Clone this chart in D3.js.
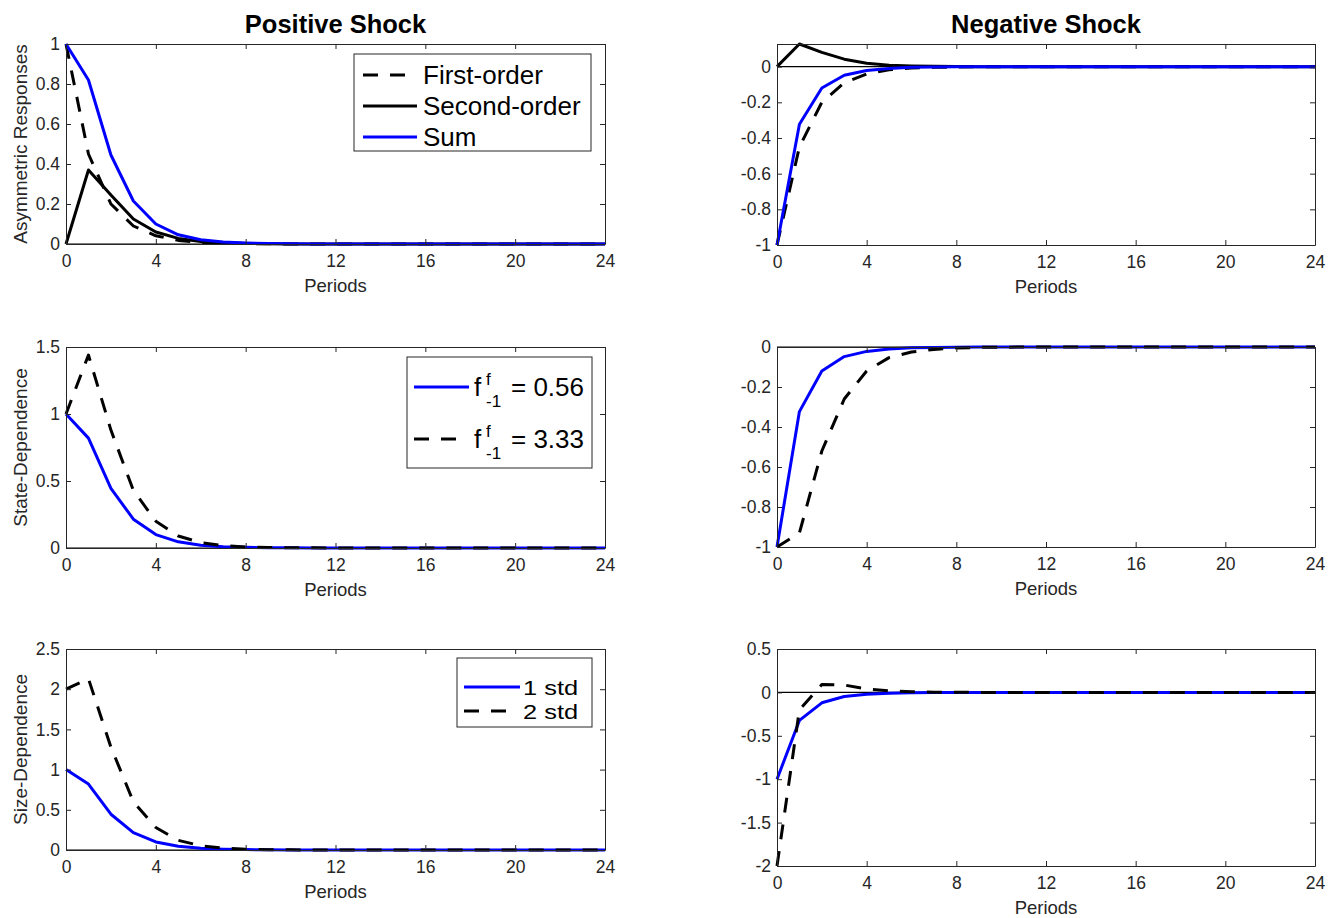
<!DOCTYPE html>
<html>
<head>
<meta charset="utf-8">
<script src="https://cdn.jsdelivr.net/npm/d3@7"></script>
<style>
  html, body { margin: 0; padding: 0; background: #fff; }
  svg { display: block; }
  text { font-family: "Liberation Sans", Arial, Helvetica, sans-serif; }
</style>
</head>
<body>
<div id="chart"></div>
<script>
// ---------------- data ----------------
const periods = [0,1,2,3,4,5,6,7,8,9,10,11,12,13,14,15,16,17,18,19,20,21,22,23,24];
const xTicks = [0,4,8,12,16,20,24];

const columnTitles = ["Positive Shock", "Negative Shock"];
const rowLabels = ["Asymmetric Responses", "State-Dependence", "Size-Dependence"];
const xLabel = "Periods";

// Row 1: asymmetric responses
const posFirstOrder  = [1, 0.45, 0.2, 0.09, 0.041, 0.018, 0.008, 0.004, 0.002, 0.001, 0, 0, 0, 0, 0, 0, 0, 0, 0, 0, 0, 0, 0, 0, 0];
const posSecondOrder = [0, 0.37, 0.245, 0.125, 0.06, 0.028, 0.013, 0.006, 0.003, 0.001, 0, 0, 0, 0, 0, 0, 0, 0, 0, 0, 0, 0, 0, 0, 0];
const posSum         = [1, 0.82, 0.445, 0.215, 0.10, 0.046, 0.021, 0.01, 0.005, 0.002, 0.001, 0, 0, 0, 0, 0, 0, 0, 0, 0, 0, 0, 0, 0, 0];
const negFirstOrder  = [-1, -0.45, -0.2, -0.09, -0.041, -0.018, -0.008, -0.004, -0.002, -0.001, 0, 0, 0, 0, 0, 0, 0, 0, 0, 0, 0, 0, 0, 0, 0];
const negSecondOrder = [0, 0.127, 0.08, 0.042, 0.019, 0.008, 0.004, 0.002, 0.001, 0, 0, 0, 0, 0, 0, 0, 0, 0, 0, 0, 0, 0, 0, 0, 0];
const negSum         = [-1, -0.323, -0.12, -0.048, -0.022, -0.01, -0.004, -0.002, -0.001, 0, 0, 0, 0, 0, 0, 0, 0, 0, 0, 0, 0, 0, 0, 0, 0];

// Row 2: state dependence (f^f_{-1} = 0.56 is the baseline sum, = 3.33 dashed)
const posStateHigh = [1, 1.44, 0.88, 0.43, 0.2, 0.09, 0.04, 0.018, 0.008, 0.004, 0.002, 0.001, 0, 0, 0, 0, 0, 0, 0, 0, 0, 0, 0, 0, 0];
const negStateHigh = [-1, -0.93, -0.52, -0.26, -0.12, -0.053, -0.025, -0.012, -0.005, -0.002, -0.001, 0, 0, 0, 0, 0, 0, 0, 0, 0, 0, 0, 0, 0, 0];

// Row 3: size dependence (1 std = baseline sum, 2 std dashed)
const posSize2 = [2, 2.13, 1.28, 0.6, 0.28, 0.12, 0.053, 0.023, 0.01, 0.004, 0.002, 0.001, 0, 0, 0, 0, 0, 0, 0, 0, 0, 0, 0, 0, 0];
const negSize2 = [-2, -0.2, 0.09, 0.085, 0.04, 0.017, 0.007, 0.003, 0.001, 0, 0, 0, 0, 0, 0, 0, 0, 0, 0, 0, 0, 0, 0, 0, 0];

// y ticks
const yTicksAsymPos  = [0, 0.2, 0.4, 0.6, 0.8, 1];
const yTicksAsymNeg  = [-1, -0.8, -0.6, -0.4, -0.2, 0];
const yTicksStatePos = [0, 0.5, 1, 1.5];
const yTicksStateNeg = [-1, -0.8, -0.6, -0.4, -0.2, 0];
const yTicksSizePos  = [0, 0.5, 1, 1.5, 2, 2.5];
const yTicksSizeNeg  = [-2, -1.5, -1, -0.5, 0, 0.5];

const legendAsym  = ["First-order", "Second-order", "Sum"];
const legendState = ["0.56", "3.33"];
const legendSize  = ["1 std", "2 std"];

// ---------------- styles ----------------
const BLUE = "#0000ff", BLACK = "#000000", AXIS = "#262626";
const DASH = "15,12";
const LW = 3;
const TICK_FS = "17.5px", LABEL_FS = "18.5px", TITLE_FS = "25.5px", LEG_FS = "26px", LEG_SMALL_FS = "17px";

const svg = d3.select("#chart").append("svg")
  .attr("width", 1328).attr("height", 918);
svg.append("rect").attr("width", 1328).attr("height", 918).attr("fill", "#fff");

const fmt = d => String(d);

const panels = [
  { box: [66, 605, 44, 244],  ylim: [0, 1],      yt: yTicksAsymPos,  col: 0, row: 0,
    series: [ {v: posFirstOrder, c: BLACK, dash: true}, {v: posSecondOrder, c: BLACK}, {v: posSum, c: BLUE} ] },
  { box: [777, 1315, 44, 245], ylim: [-1, 0.127], yt: yTicksAsymNeg, col: 1, row: 0,
    series: [ {v: negFirstOrder, c: BLACK, dash: true}, {v: negSecondOrder, c: BLACK}, {v: negSum, c: BLUE} ] },
  { box: [66, 605, 347, 548], ylim: [0, 1.5],    yt: yTicksStatePos, col: 0, row: 1,
    series: [ {v: posSum, c: BLUE}, {v: posStateHigh, c: BLACK, dash: true} ] },
  { box: [777, 1315, 347, 547], ylim: [-1, 0],   yt: yTicksStateNeg, col: 1, row: 1,
    series: [ {v: negSum, c: BLUE}, {v: negStateHigh, c: BLACK, dash: true} ] },
  { box: [66, 605, 649, 850], ylim: [0, 2.5],    yt: yTicksSizePos,  col: 0, row: 2,
    series: [ {v: posSum, c: BLUE}, {v: posSize2, c: BLACK, dash: true} ] },
  { box: [777, 1315, 649, 866], ylim: [-2, 0.5], yt: yTicksSizeNeg,  col: 1, row: 2,
    series: [ {v: negSum, c: BLUE}, {v: negSize2, c: BLACK, dash: true} ] }
];

panels.forEach(p => {
  const [x0, x1, yT, yB] = p.box;
  const x = d3.scaleLinear().domain([0, 24]).range([x0, x1]);
  const y = d3.scaleLinear().domain(p.ylim).range([yB, yT]);
  const g = svg.append("g");

  // zero reference line
  g.append("line")
    .attr("x1", x(0)).attr("x2", x(24))
    .attr("y1", y(0)).attr("y2", y(0))
    .attr("stroke", BLACK).attr("stroke-width", 1.2);

  // series
  const line = d3.line().x((d, i) => x(periods[i])).y(d => y(d));
  p.series.forEach(s => {
    g.append("path").datum(s.v)
      .attr("d", line)
      .attr("fill", "none")
      .attr("stroke", s.c)
      .attr("stroke-width", LW)
      .attr("stroke-linejoin", "round")
      .attr("stroke-dasharray", s.dash ? DASH : null);
  });

  // axes (box with inward ticks)
  const styleAxis = sel => {
    sel.selectAll(".domain").attr("stroke", AXIS).attr("stroke-width", 1);
    sel.selectAll(".tick line").attr("stroke", AXIS).attr("stroke-width", 1);
    sel.selectAll(".tick text").attr("fill", AXIS).style("font-size", TICK_FS)
      .style("font-family", "'Liberation Sans', Arial, sans-serif");
  };
  g.append("g").attr("transform", `translate(0,${yB})`)
    .call(d3.axisBottom(x).tickValues(xTicks).tickSize(-5).tickSizeOuter(0).tickPadding(10.5).tickFormat(fmt))
    .call(styleAxis);
  g.append("g").attr("transform", `translate(0,${yT})`)
    .call(d3.axisTop(x).tickValues(xTicks).tickSize(-5).tickSizeOuter(0).tickFormat(""))
    .call(styleAxis);
  g.append("g").attr("transform", `translate(${x0},0)`)
    .call(d3.axisLeft(y).tickValues(p.yt).tickSize(-5).tickSizeOuter(0).tickPadding(6).tickFormat(fmt))
    .call(styleAxis);
  g.append("g").attr("transform", `translate(${x1},0)`)
    .call(d3.axisRight(y).tickValues(p.yt).tickSize(-5).tickSizeOuter(0).tickFormat(""))
    .call(styleAxis);

  // x label
  g.append("text")
    .attr("x", (x0 + x1) / 2).attr("y", yB + 48)
    .attr("text-anchor", "middle").attr("fill", AXIS)
    .style("font-size", LABEL_FS).text(xLabel);

  // title
  if (p.row === 0) {
    g.append("text")
      .attr("x", (x0 + x1) / 2).attr("y", yT - 11)
      .attr("text-anchor", "middle").attr("fill", BLACK)
      .style("font-size", TITLE_FS).style("font-weight", "bold")
      .text(columnTitles[p.col]);
  }
  // y label
  if (p.col === 0) {
    const cy = (yT + yB) / 2;
    g.append("text")
      .attr("transform", `translate(27,${cy}) rotate(-90)`)
      .attr("text-anchor", "middle").attr("fill", AXIS)
      .style("font-size", "19px").text(rowLabels[p.row]);
  }
});

// ---------------- legends ----------------
function legendBox(x0, x1, y0, y1) {
  svg.append("rect").attr("x", x0).attr("y", y0)
    .attr("width", x1 - x0).attr("height", y1 - y0)
    .attr("fill", "#fff").attr("stroke", AXIS).attr("stroke-width", 1);
}
function legendLine(lx0, lx1, ly, color, dash) {
  svg.append("line").attr("x1", lx0).attr("x2", dash ? lx0 + 42 : lx1).attr("y1", ly).attr("y2", ly)
    .attr("stroke", color).attr("stroke-width", LW)
    .attr("stroke-dasharray", dash ? DASH : null);
}
function legendText(tx, ty, str) {
  svg.append("text").attr("x", tx).attr("y", ty + 9)
    .attr("fill", BLACK).style("font-size", LEG_FS).text(str);
}

// Legend 1 (Asymmetric responses)
legendBox(354, 591, 54, 151);
const l1y = [75, 106, 137];
const l1style = [{c: BLACK, d: true}, {c: BLACK, d: false}, {c: BLUE, d: false}];
legendAsym.forEach((t, i) => {
  legendLine(363, 417, l1y[i], l1style[i].c, l1style[i].d);
  legendText(423, l1y[i], t);
});

// Legend 2 (State dependence)
legendBox(407, 592, 357, 468);
const l2y = [387, 439];
const l2style = [{c: BLUE, d: false}, {c: BLACK, d: true}];
legendState.forEach((t, i) => {
  const ly = l2y[i];
  legendLine(414, 469, ly, l2style[i].c, l2style[i].d);
  svg.append("text").attr("x", 474).attr("y", ly + 9).attr("fill", BLACK)
    .style("font-size", LEG_FS).text("f");
  svg.append("text").attr("x", 486).attr("y", ly - 2).attr("fill", BLACK)
    .style("font-size", LEG_SMALL_FS).text("f");
  svg.append("text").attr("x", 486).attr("y", ly + 20).attr("fill", BLACK)
    .style("font-size", LEG_SMALL_FS).text("-1");
  svg.append("text").attr("x", 511).attr("y", ly + 9).attr("fill", BLACK)
    .style("font-size", LEG_FS).text("= " + t);
});

// Legend 3 (Size dependence) - rows are tight, so use a slightly condensed-height font stretched horizontally
legendBox(457, 592, 658, 727);
const l3y = [687, 711];
const l3style = [{c: BLUE, d: false}, {c: BLACK, d: true}];
legendSize.forEach((t, i) => {
  legendLine(464, 520, l3y[i], l3style[i].c, l3style[i].d);
  svg.append("text")
    .attr("transform", `translate(523,${l3y[i] + 7.5}) scale(1.24,1)`)
    .attr("fill", BLACK).style("font-size", "20.5px").text(t);
});
</script>
</body>
</html>
